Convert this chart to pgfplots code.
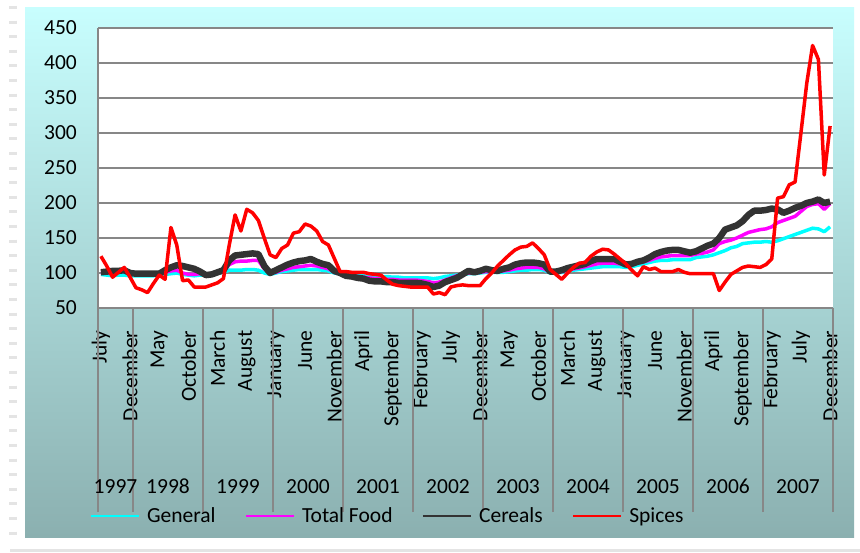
\documentclass[border=0pt]{standalone}
\usepackage{fontspec}
\setmainfont{Carlito}
\usepackage{pgfplots}
\usepackage{pgfplotstable}
\pgfplotsset{compat=1.18}

\definecolor{gridgray}{HTML}{878787}
\definecolor{bgtop}{HTML}{C8FEFE}
\definecolor{bgbot}{HTML}{8BB0B0}
\definecolor{gencyan}{RGB}{0,255,255}
\definecolor{foodmag}{RGB}{255,0,255}
\definecolor{spired}{RGB}{255,0,0}
\definecolor{cereal}{HTML}{333333}
\definecolor{faint}{HTML}{E4E4E4}

% monthly index, July 1997 = 0 ... December 2007 = 125
\pgfplotstableread{
i gen food cer spi
0 98 100 101 124
1 97 100 102 110
2 96 101 103 94
3 97 102 103 101
4 97 102 104 108
5 96 99 100 94
6 96 98 99 79
7 96 98 99 76
8 96 98 99 72
9 96 98 99 85
10 97 98 99 97
11 98 101 104 91
12 99 103 108 165
13 100 104 111 140
14 98 100 110 89
15 97 98 108 90
16 96 98 106 80
17 97 99 102 80
18 97 97 97 80
19 98 98 98 83
20 100 100 101 86
21 101 102 104 92
22 104 112 118 140
23 104 116 125 183
24 104 117 126 160
25 105 117 127 191
26 105 118 128 186
27 104 118 127 175
28 100 106 110 150
29 98 100 100 126
30 100 101 104 122
31 102 104 108 135
32 103 106 112 140
33 104 108 115 157
34 105 109 117 159
35 105 110 118 170
36 105 111 120 167
37 105 110 116 160
38 104 108 113 145
39 103 106 111 140
40 100 101 103 121
41 99 99 100 102
42 98 97 96 102
43 97 96 95 101
44 97 95 93 101
45 96 94 92 101
46 95 93 89 99
47 95 92 88 98
48 95 92 88 97
49 95 91 87 90
50 94 91 87 84
51 94 90 86 82
52 93 90 86 81
53 93 90 86 80
54 93 90 86 80
55 93 89 85 80
56 93 88 83 80
57 92 86 80 70
58 93 87 82 72
59 95 90 87 69
60 96 93 90 80
61 97 96 93 82
62 98 98 98 83
63 99 100 103 82
64 99 100 101 82
65 100 101 103 82
66 101 102 106 92
67 101 102 104 100
68 101 102 103 110
69 101 103 106 118
70 102 104 108 126
71 103 106 112 133
72 104 107 114 137
73 104 108 115 138
74 105 108 115 143
75 105 108 114 135
76 104 106 112 126
77 100 101 102 105
78 100 101 102 98
79 101 102 104 91
80 103 104 107 100
81 104 106 109 108
82 105 107 111 114
83 106 109 113 115
84 107 111 117 124
85 108 113 120 130
86 109 114 120 134
87 109 114 120 133
88 109 114 120 127
89 109 113 116 120
90 108 111 112 113
91 109 112 113 104
92 111 114 116 96
93 113 116 118 109
94 115 118 122 105
95 117 121 127 107
96 118 123 130 102
97 118 124 132 102
98 119 125 133 102
99 119 125 133 105
100 119 125 131 101
101 119 125 129 99
102 122 127 131 99
103 123 128 135 99
104 124 130 139 99
105 126 133 142 99
106 129 142 150 75
107 132 145 162 87
108 136 147 165 98
109 138 150 168 103
110 142 154 174 108
111 143 158 183 110
112 144 160 189 109
113 144 162 189 108
114 145 163 190 112
115 144 166 192 120
116 146 172 191 207
117 149 175 186 209
118 152 178 189 226
119 155 181 193 230
120 158 188 196 300
121 161 195 200 371
122 164 198 202 425
123 163 199 205 405
124 159 191 200 240
125 166 199 202 310
}\cpi

\newcommand{\lblfont}{\fontsize{21.5}{26}\selectfont}

\begin{document}
\begin{tikzpicture}[x=1pt,y=1pt,
  yearlbl/.style={font=\lblfont, anchor=base, inner sep=0pt, yshift=-185pt}]
\useasboundingbox (0,0) rectangle (860,552);
\fill[white] (0,0) rectangle (860,552);
\draw[faint, line width=8pt, dash pattern=on 3pt off 11.6pt] (13,546) -- (13,10);
\draw[faint, line width=3pt] (10,2) -- (860,2);
\shade[top color=bgtop, bottom color=bgbot] (25,15) rectangle (854,544);
\begin{axis}[
  at={(98pt,244pt)}, anchor=south west,
  width=735pt, height=280pt, scale only axis,
  xmin=-0.5, xmax=125.5, ymin=50, ymax=450,
  clip=false,
  axis x line*=bottom, axis y line*=left,
  axis line style={gridgray, line width=2pt},
  axis background/.style={fill=white},
  ymajorgrids, grid style={gridgray, line width=2pt},
  ytick={50,100,...,450},
  xtick={0,5,...,125},
  xticklabels={July,December,May,October,March,August,January,June,November,April,September,February,July,December,May,October,March,August,January,June,November,April,September,February,July,December},
  major tick length=0pt,
  tick label style={font=\lblfont},
  /pgf/number format/assume math mode=true,
  xticklabel style={rotate=90, anchor=east, inner sep=0pt, xshift=2.5pt},
  xticklabel shift=25pt,
  yticklabel style={anchor=east, inner sep=0pt},
  yticklabel shift=21pt,
  extra x ticks={-0.5,5.5,17.5,29.5,41.5,53.5,65.5,77.5,89.5,101.5,113.5,125.5},
  extra x tick labels={},
  extra x tick style={major tick length=204pt, tick align=outside, tick style={gridgray, line width=2pt}},
  legend columns=4,
  legend style={at={(0.394,-0.743)}, anchor=center, draw=none, fill=none, font=\lblfont,
    /tikz/every odd column/.append style={column sep=5pt},
    /tikz/every even column/.append style={column sep=27pt}},
  legend image code/.code={\draw[#1, line width=2.5pt] (0pt,0pt) -- (48pt,0pt);},
]
\addplot[gencyan, line width=3.5pt, line join=round] table[x=i, y=gen] {\cpi};
\addlegendentry{General}
\addplot[foodmag, line width=3.5pt, line join=round] table[x=i, y=food] {\cpi};
\addlegendentry{Total Food}
\addplot[cereal, line width=6.5pt, line join=round] table[x=i, y=cer] {\cpi};
\addlegendentry{Cereals}
\addplot[spired, line width=3.5pt, line join=round] table[x=i, y=spi] {\cpi};
\addlegendentry{Spices}

\node[yearlbl] at (axis cs:2.5,50) {1997};
\node[yearlbl] at (axis cs:11.5,50) {1998};
\node[yearlbl] at (axis cs:23.5,50) {1999};
\node[yearlbl] at (axis cs:35.5,50) {2000};
\node[yearlbl] at (axis cs:47.5,50) {2001};
\node[yearlbl] at (axis cs:59.5,50) {2002};
\node[yearlbl] at (axis cs:71.5,50) {2003};
\node[yearlbl] at (axis cs:83.5,50) {2004};
\node[yearlbl] at (axis cs:95.5,50) {2005};
\node[yearlbl] at (axis cs:107.5,50) {2006};
\node[yearlbl] at (axis cs:119.5,50) {2007};
\end{axis}
\end{tikzpicture}
\end{document}
